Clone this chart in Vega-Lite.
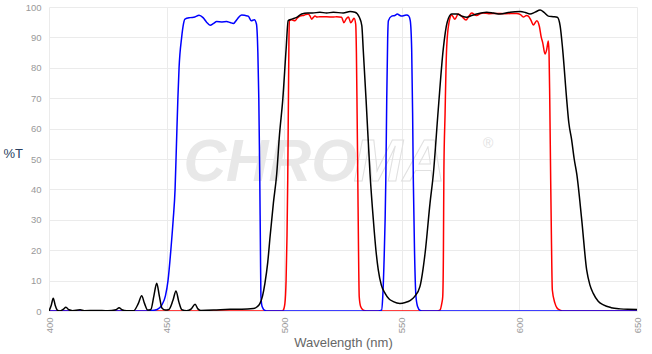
{
  "$schema": "https://vega.github.io/schema/vega-lite/v6.json",
  "width": 588,
  "height": 304,
  "autosize": {"type": "none"},
  "padding": {"left": 49, "top": 7, "right": 15, "bottom": 43},
  "background": "white",
  "config": {
    "view": {"stroke": null},
    "font": "Liberation Sans",
    "axis": {"gridColor": "#ebebeb", "gridWidth": 1, "domain": false, "ticks": false, "labelColor": "#999", "labelFontSize": 9.5, "titleFontWeight": "normal"}
  },
  "datasets": {
    "spectra": [
      {"s": "red", "nm": 400, "t": 0}, {"s": "red", "nm": 499, "t": 0}, {"s": "red", "nm": 499.6, "t": 0.3}, {"s": "red", "nm": 500.3, "t": 2.5}, {"s": "red", "nm": 500.8, "t": 10}, {"s": "red", "nm": 501.2, "t": 25}, {"s": "red", "nm": 501.5, "t": 43}, {"s": "red", "nm": 501.8, "t": 70}, {"s": "red", "nm": 502, "t": 88}, {"s": "red", "nm": 502.2, "t": 95.5}, {"s": "red", "nm": 503, "t": 95.8}, {"s": "red", "nm": 504.6, "t": 95.5}, {"s": "red", "nm": 505.5, "t": 96.3}, {"s": "red", "nm": 506.7, "t": 97}, {"s": "red", "nm": 508.5, "t": 97.3}, {"s": "red", "nm": 510.2, "t": 97.7}, {"s": "red", "nm": 511, "t": 97}, {"s": "red", "nm": 511.7, "t": 96}, {"s": "red", "nm": 512.4, "t": 96.6}, {"s": "red", "nm": 513.1, "t": 97}, {"s": "red", "nm": 514, "t": 96.7}, {"s": "red", "nm": 515.2, "t": 96.8}, {"s": "red", "nm": 518, "t": 96.8}, {"s": "red", "nm": 521, "t": 96.7}, {"s": "red", "nm": 522.3, "t": 96.8}, {"s": "red", "nm": 524.4, "t": 96.6}, {"s": "red", "nm": 525.4, "t": 94.8}, {"s": "red", "nm": 526.3, "t": 96}, {"s": "red", "nm": 527.3, "t": 96.7}, {"s": "red", "nm": 528.3, "t": 94.8}, {"s": "red", "nm": 529.2, "t": 95.8}, {"s": "red", "nm": 529.7, "t": 96.3}, {"s": "red", "nm": 530.4, "t": 94.4}, {"s": "red", "nm": 530.7, "t": 85}, {"s": "red", "nm": 531, "t": 65}, {"s": "red", "nm": 531.3, "t": 43}, {"s": "red", "nm": 531.6, "t": 20}, {"s": "red", "nm": 531.9, "t": 4.7}, {"s": "red", "nm": 532.5, "t": 1.5}, {"s": "red", "nm": 533.6, "t": 0.3}, {"s": "red", "nm": 535, "t": 0}, {"s": "red", "nm": 565, "t": 0}, {"s": "red", "nm": 566.2, "t": 0.3}, {"s": "red", "nm": 567, "t": 2.5}, {"s": "red", "nm": 567.4, "t": 4.7}, {"s": "red", "nm": 567.7, "t": 20}, {"s": "red", "nm": 567.9, "t": 46.5}, {"s": "red", "nm": 568.4, "t": 65}, {"s": "red", "nm": 568.8, "t": 80}, {"s": "red", "nm": 569.1, "t": 87}, {"s": "red", "nm": 570.1, "t": 95}, {"s": "red", "nm": 571.2, "t": 97.4}, {"s": "red", "nm": 572.6, "t": 96}, {"s": "red", "nm": 574, "t": 97.7}, {"s": "red", "nm": 575.5, "t": 96.9}, {"s": "red", "nm": 577.3, "t": 95.7}, {"s": "red", "nm": 578.5, "t": 97}, {"s": "red", "nm": 579.7, "t": 98}, {"s": "red", "nm": 581.8, "t": 97.2}, {"s": "red", "nm": 583.3, "t": 97.8}, {"s": "red", "nm": 584.6, "t": 98}, {"s": "red", "nm": 587, "t": 97.8}, {"s": "red", "nm": 590, "t": 97.9}, {"s": "red", "nm": 594, "t": 97.8}, {"s": "red", "nm": 598.8, "t": 97.9}, {"s": "red", "nm": 600.3, "t": 97.6}, {"s": "red", "nm": 601.7, "t": 96.7}, {"s": "red", "nm": 603, "t": 97.2}, {"s": "red", "nm": 603.8, "t": 97}, {"s": "red", "nm": 605, "t": 95.5}, {"s": "red", "nm": 605.9, "t": 94.1}, {"s": "red", "nm": 607.4, "t": 95.5}, {"s": "red", "nm": 608.5, "t": 93.6}, {"s": "red", "nm": 609.3, "t": 90}, {"s": "red", "nm": 609.9, "t": 88.3}, {"s": "red", "nm": 610.9, "t": 84.5}, {"s": "red", "nm": 611.6, "t": 86}, {"s": "red", "nm": 612.3, "t": 88.8}, {"s": "red", "nm": 612.6, "t": 85}, {"s": "red", "nm": 612.9, "t": 70}, {"s": "red", "nm": 613.3, "t": 43}, {"s": "red", "nm": 613.6, "t": 25}, {"s": "red", "nm": 614, "t": 6.9}, {"s": "red", "nm": 615.1, "t": 2.6}, {"s": "red", "nm": 616, "t": 1}, {"s": "red", "nm": 617.3, "t": 0.3}, {"s": "red", "nm": 619, "t": 0}, {"s": "red", "nm": 650, "t": 0},

      {"s": "blue", "nm": 400, "t": 0}, {"s": "blue", "nm": 440, "t": 0}, {"s": "blue", "nm": 443, "t": 0.1}, {"s": "blue", "nm": 446, "t": 0.5}, {"s": "blue", "nm": 448, "t": 2}, {"s": "blue", "nm": 449.5, "t": 5}, {"s": "blue", "nm": 450.6, "t": 10}, {"s": "blue", "nm": 451.8, "t": 20}, {"s": "blue", "nm": 452.8, "t": 30}, {"s": "blue", "nm": 453.6, "t": 40}, {"s": "blue", "nm": 454.2, "t": 55}, {"s": "blue", "nm": 454.8, "t": 70}, {"s": "blue", "nm": 455.3, "t": 80}, {"s": "blue", "nm": 456.4, "t": 90}, {"s": "blue", "nm": 457.2, "t": 94.5}, {"s": "blue", "nm": 457.8, "t": 96}, {"s": "blue", "nm": 460, "t": 96.5}, {"s": "blue", "nm": 462, "t": 96.7}, {"s": "blue", "nm": 463.8, "t": 97.3}, {"s": "blue", "nm": 465.5, "t": 96.5}, {"s": "blue", "nm": 467, "t": 95}, {"s": "blue", "nm": 468.5, "t": 94}, {"s": "blue", "nm": 470, "t": 94.6}, {"s": "blue", "nm": 471.3, "t": 95.2}, {"s": "blue", "nm": 473.5, "t": 95.1}, {"s": "blue", "nm": 475.5, "t": 95.2}, {"s": "blue", "nm": 477, "t": 94.9}, {"s": "blue", "nm": 478.4, "t": 94.6}, {"s": "blue", "nm": 480, "t": 96}, {"s": "blue", "nm": 481.9, "t": 97.4}, {"s": "blue", "nm": 483.5, "t": 97.2}, {"s": "blue", "nm": 484.7, "t": 97}, {"s": "blue", "nm": 486, "t": 95.5}, {"s": "blue", "nm": 487.3, "t": 95.8}, {"s": "blue", "nm": 488.2, "t": 94.4}, {"s": "blue", "nm": 488.8, "t": 85}, {"s": "blue", "nm": 489.2, "t": 70}, {"s": "blue", "nm": 489.6, "t": 45}, {"s": "blue", "nm": 489.9, "t": 20}, {"s": "blue", "nm": 490.1, "t": 5}, {"s": "blue", "nm": 490.6, "t": 1.5}, {"s": "blue", "nm": 491.8, "t": 0.2}, {"s": "blue", "nm": 493, "t": 0}, {"s": "blue", "nm": 540, "t": 0}, {"s": "blue", "nm": 541.4, "t": 0.3}, {"s": "blue", "nm": 541.9, "t": 4.7}, {"s": "blue", "nm": 542.4, "t": 15}, {"s": "blue", "nm": 543.2, "t": 43}, {"s": "blue", "nm": 543.6, "t": 70}, {"s": "blue", "nm": 544, "t": 90}, {"s": "blue", "nm": 544.3, "t": 95.5}, {"s": "blue", "nm": 545.7, "t": 97}, {"s": "blue", "nm": 547, "t": 97.2}, {"s": "blue", "nm": 548.1, "t": 97.7}, {"s": "blue", "nm": 549, "t": 97.3}, {"s": "blue", "nm": 550, "t": 97}, {"s": "blue", "nm": 551, "t": 97.2}, {"s": "blue", "nm": 552.1, "t": 97.4}, {"s": "blue", "nm": 553, "t": 97}, {"s": "blue", "nm": 553.6, "t": 95.5}, {"s": "blue", "nm": 554.2, "t": 86}, {"s": "blue", "nm": 554.6, "t": 65}, {"s": "blue", "nm": 554.9, "t": 43}, {"s": "blue", "nm": 555.4, "t": 20}, {"s": "blue", "nm": 556, "t": 5}, {"s": "blue", "nm": 556.7, "t": 1.5}, {"s": "blue", "nm": 557.8, "t": 0.2}, {"s": "blue", "nm": 559, "t": 0}, {"s": "blue", "nm": 650, "t": 0},

      {"s": "black", "nm": 400, "t": 0}, {"s": "black", "nm": 401, "t": 2}, {"s": "black", "nm": 401.8, "t": 4.2}, {"s": "black", "nm": 402.6, "t": 2}, {"s": "black", "nm": 403.5, "t": 0.3}, {"s": "black", "nm": 404.5, "t": 0}, {"s": "black", "nm": 406, "t": 0.5}, {"s": "black", "nm": 407.2, "t": 1.2}, {"s": "black", "nm": 408.5, "t": 0.4}, {"s": "black", "nm": 410, "t": 0.1}, {"s": "black", "nm": 413.2, "t": 0.4}, {"s": "black", "nm": 415, "t": 0.1}, {"s": "black", "nm": 420, "t": 0.2}, {"s": "black", "nm": 425, "t": 0.05}, {"s": "black", "nm": 428.5, "t": 0.4}, {"s": "black", "nm": 429.8, "t": 1.1}, {"s": "black", "nm": 431, "t": 0.4}, {"s": "black", "nm": 433, "t": 0.05}, {"s": "black", "nm": 436, "t": 0.1}, {"s": "black", "nm": 438, "t": 2.5}, {"s": "black", "nm": 439.4, "t": 5}, {"s": "black", "nm": 440.6, "t": 2.5}, {"s": "black", "nm": 442, "t": 0.3}, {"s": "black", "nm": 443.3, "t": 0.5}, {"s": "black", "nm": 444.6, "t": 5}, {"s": "black", "nm": 445.8, "t": 9.1}, {"s": "black", "nm": 446.9, "t": 5}, {"s": "black", "nm": 448, "t": 1}, {"s": "black", "nm": 449.5, "t": 0.3}, {"s": "black", "nm": 451, "t": 0.5}, {"s": "black", "nm": 452.7, "t": 3.5}, {"s": "black", "nm": 454, "t": 6.6}, {"s": "black", "nm": 455.2, "t": 3}, {"s": "black", "nm": 456.5, "t": 0.4}, {"s": "black", "nm": 458.5, "t": 0.1}, {"s": "black", "nm": 460.5, "t": 0.7}, {"s": "black", "nm": 462.1, "t": 2.2}, {"s": "black", "nm": 463.3, "t": 0.7}, {"s": "black", "nm": 464.5, "t": 0.2}, {"s": "black", "nm": 470, "t": 0.3}, {"s": "black", "nm": 477, "t": 0.6}, {"s": "black", "nm": 482, "t": 0.6}, {"s": "black", "nm": 486.9, "t": 0.8}, {"s": "black", "nm": 488.5, "t": 1.4}, {"s": "black", "nm": 489.7, "t": 2.5}, {"s": "black", "nm": 490.8, "t": 5}, {"s": "black", "nm": 491.8, "t": 9.1}, {"s": "black", "nm": 493, "t": 16}, {"s": "black", "nm": 494, "t": 24.5}, {"s": "black", "nm": 495.4, "t": 35.5}, {"s": "black", "nm": 496.8, "t": 45}, {"s": "black", "nm": 498, "t": 58}, {"s": "black", "nm": 499.4, "t": 69.6}, {"s": "black", "nm": 500.8, "t": 86}, {"s": "black", "nm": 501.7, "t": 95.5}, {"s": "black", "nm": 503.2, "t": 96}, {"s": "black", "nm": 505.3, "t": 96.6}, {"s": "black", "nm": 507.4, "t": 97.7}, {"s": "black", "nm": 510, "t": 98}, {"s": "black", "nm": 512, "t": 98}, {"s": "black", "nm": 515.2, "t": 98.3}, {"s": "black", "nm": 518, "t": 98}, {"s": "black", "nm": 520.9, "t": 98.3}, {"s": "black", "nm": 525.1, "t": 98}, {"s": "black", "nm": 528, "t": 98.5}, {"s": "black", "nm": 530.1, "t": 98.3}, {"s": "black", "nm": 531.9, "t": 96.7}, {"s": "black", "nm": 533, "t": 93.9}, {"s": "black", "nm": 533.6, "t": 86}, {"s": "black", "nm": 534.8, "t": 69.6}, {"s": "black", "nm": 536.5, "t": 45}, {"s": "black", "nm": 537.9, "t": 30}, {"s": "black", "nm": 539, "t": 20}, {"s": "black", "nm": 540, "t": 13.5}, {"s": "black", "nm": 541.3, "t": 8.5}, {"s": "black", "nm": 542.9, "t": 5.8}, {"s": "black", "nm": 544.5, "t": 4}, {"s": "black", "nm": 546.4, "t": 3.1}, {"s": "black", "nm": 549.2, "t": 2.5}, {"s": "black", "nm": 551.5, "t": 2.8}, {"s": "black", "nm": 553.5, "t": 3.4}, {"s": "black", "nm": 555.5, "t": 4.8}, {"s": "black", "nm": 557.7, "t": 8}, {"s": "black", "nm": 559.9, "t": 19}, {"s": "black", "nm": 562, "t": 35.5}, {"s": "black", "nm": 563.4, "t": 45}, {"s": "black", "nm": 565.5, "t": 66.3}, {"s": "black", "nm": 567.6, "t": 86}, {"s": "black", "nm": 569.3, "t": 95}, {"s": "black", "nm": 571.2, "t": 97.7}, {"s": "black", "nm": 573.5, "t": 97.7}, {"s": "black", "nm": 575.5, "t": 97}, {"s": "black", "nm": 577.6, "t": 96.6}, {"s": "black", "nm": 579.7, "t": 97.2}, {"s": "black", "nm": 581.8, "t": 97.7}, {"s": "black", "nm": 586.1, "t": 98.3}, {"s": "black", "nm": 589, "t": 98}, {"s": "black", "nm": 591.8, "t": 97.7}, {"s": "black", "nm": 596, "t": 98.3}, {"s": "black", "nm": 600.3, "t": 98.5}, {"s": "black", "nm": 602.5, "t": 98.2}, {"s": "black", "nm": 604.5, "t": 97.7}, {"s": "black", "nm": 606.7, "t": 98.3}, {"s": "black", "nm": 608.8, "t": 99}, {"s": "black", "nm": 610.5, "t": 98.2}, {"s": "black", "nm": 612.3, "t": 97}, {"s": "black", "nm": 614.4, "t": 96.8}, {"s": "black", "nm": 616.1, "t": 96.6}, {"s": "black", "nm": 617.3, "t": 93.9}, {"s": "black", "nm": 618.4, "t": 86}, {"s": "black", "nm": 620.1, "t": 69.6}, {"s": "black", "nm": 621, "t": 62}, {"s": "black", "nm": 622.2, "t": 56.4}, {"s": "black", "nm": 623.3, "t": 50}, {"s": "black", "nm": 624.4, "t": 45}, {"s": "black", "nm": 626.5, "t": 30}, {"s": "black", "nm": 628.6, "t": 13.5}, {"s": "black", "nm": 630, "t": 8.5}, {"s": "black", "nm": 631.4, "t": 5.8}, {"s": "black", "nm": 633.5, "t": 3.2}, {"s": "black", "nm": 635.7, "t": 2}, {"s": "black", "nm": 639, "t": 1.1}, {"s": "black", "nm": 642.8, "t": 0.7}, {"s": "black", "nm": 646, "t": 0.55}, {"s": "black", "nm": 650, "t": 0.5}
    ],
    "mark": [
      {"label": "CHRO", "nm": 531, "t": 42.6, "kind": "fill"},
      {"label": "MA", "nm": 529.5, "t": 42.6, "kind": "outline"},
      {"label": "®", "nm": 584.5, "t": 53.5, "kind": "outline"}
    ]
  },
  "encoding": {
    "x": {
      "field": "nm", "type": "quantitative",
      "scale": {"domain": [400, 650], "nice": false, "zero": false},
      "axis": {"values": [400, 450, 500, 550, 600, 650], "labelAngle": -90, "labelPadding": 6, "title": "Wavelength (nm)", "titleColor": "#666", "titleFontSize": 13, "titlePadding": 4}
    },
    "y": {
      "field": "t", "type": "quantitative",
      "scale": {"domain": [0, 100], "nice": false},
      "axis": {"values": [0, 10, 20, 30, 40, 50, 60, 70, 80, 90, 100], "labelOverlap": false, "labelPadding": 8, "title": "%T", "titleAngle": 0, "titleAlign": "left", "titleBaseline": "middle", "titleX": -46, "titleY": 146, "titleColor": "#2a3f5f", "titleFontSize": 13}
    }
  },
  "layer": [
    {
      "data": {"name": "mark"},
      "transform": [{"filter": "datum.kind === 'fill'"}],
      "mark": {"type": "text", "align": "right", "baseline": "alphabetic", "fontSize": 59, "fontStyle": "italic", "fontWeight": "bold", "font": "Liberation Sans", "color": "#e8e8e8"},
      "encoding": {"text": {"field": "label"}}
    },
    {
      "data": {"name": "mark"},
      "transform": [{"filter": "datum.label === 'MA'"}],
      "mark": {"type": "text", "align": "left", "baseline": "alphabetic", "fontSize": 59, "fontStyle": "italic", "fontWeight": "bold", "font": "Liberation Sans", "fill": null, "stroke": "#e0e0e0", "strokeWidth": 1},
      "encoding": {"text": {"field": "label"}}
    },
    {
      "data": {"name": "mark"},
      "transform": [{"filter": "datum.label === '®'"}],
      "mark": {"type": "text", "align": "left", "baseline": "alphabetic", "fontSize": 14, "font": "Liberation Sans", "color": "#e2e2e2"},
      "encoding": {"text": {"field": "label"}}
    },
    {
      "data": {"name": "spectra"},
      "mark": {"type": "line", "interpolate": "monotone", "strokeWidth": 1.5, "clip": true},
      "encoding": {
        "color": {
          "field": "s", "type": "nominal",
          "scale": {"domain": ["red", "blue", "black"], "range": ["#ff0000", "#0000ff", "#000000"]},
          "legend": null
        }
      }
    }
  ]
}
